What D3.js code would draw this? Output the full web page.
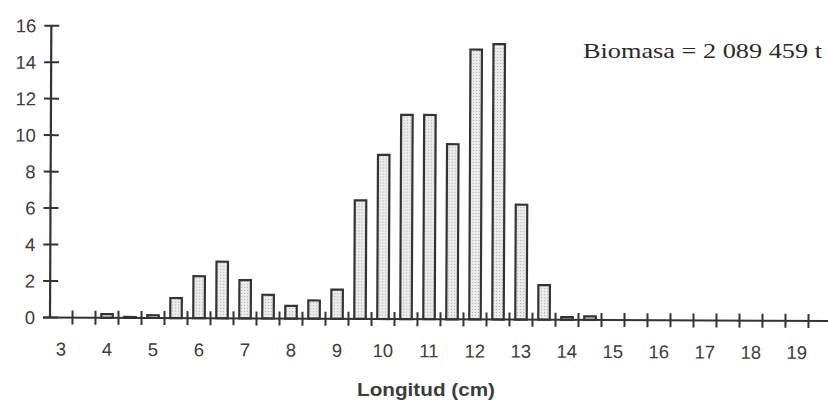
<!DOCTYPE html>
<html>
<head>
<meta charset="utf-8">
<script src="https://cdn.jsdelivr.net/npm/d3@7"></script>
<style>
  body { margin: 0; background: #fff; }
  svg { display: block; }
</style>
</head>
<body>
<svg id="chart" width="828" height="401"></svg>
<script>
// Length classes (cm), half-centimetre bins
const lengthClasses = ["3","3.5","4","4.5","5","5.5","6","6.5","7","7.5","8","8.5",
  "9","9.5","10","10.5","11","11.5","12","12.5","13","13.5","14","14.5",
  "15","15.5","16","16.5","17","17.5","18","18.5","19","19.5"];
// Share of biomass per length class (%)
const biomassPct = [0,0,0.2,0.05,0.15,1.1,2.3,3.1,2.1,1.3,0.7,1.0,
  1.6,6.5,9.0,11.2,11.2,9.6,14.8,15.1,6.3,1.9,0.15,0.2,
  0,0,0,0,0,0,0,0,0,0];
const xTickLabels = ["3","4","5","6","7","8","9","10","11","12","13","14","15","16","17","18","19"];
const yTickValues = [0,2,4,6,8,10,12,14,16];
const biomassNote = "Biomasa = 2 089 459 t";
const xTitle = "Longitud (cm)";

const svg = d3.select("#chart");
const ink = "#333";
const textInk = "#3c3c3c";

// stippled light fill for the bars
const defs = svg.append("defs");
const pat = defs.append("pattern")
  .attr("id", "stipple").attr("width", 3).attr("height", 3)
  .attr("patternUnits", "userSpaceOnUse");
pat.append("rect").attr("width", 3).attr("height", 3).attr("fill", "#ececec");
pat.append("rect").attr("x", 1).attr("y", 1).attr("width", 1).attr("height", 1).attr("fill", "#a8a8a8");

const x0 = 49.5, x1 = 831.5;
const x = d3.scaleBand().domain(lengthClasses).range([x0, x1])
  .paddingInner(0.5).paddingOuter(0.25);
const xEdge = d3.scaleLinear().domain([3, 20]).range([x0, x1]);
const y = d3.scaleLinear().domain([0, 16]).range([317.5, 25.7]);

const plot = svg.append("g").attr("transform", "rotate(0.26, 50, 317.5)");

// bars
plot.append("g").selectAll("rect")
  .data(lengthClasses.map((c, i) => ({ c, v: biomassPct[i] })).filter(d => d.v > 0))
  .join("rect")
  .attr("x", d => x(d.c))
  .attr("y", d => y(d.v))
  .attr("width", x.bandwidth())
  .attr("height", d => y(0) - y(d.v))
  .attr("fill", "url(#stipple)")
  .attr("stroke", ink)
  .attr("stroke-width", 2.2);

// x axis line and bin-edge ticks crossing it
plot.append("line")
  .attr("x1", 43).attr("x2", 830).attr("y1", y(0)).attr("y2", y(0))
  .attr("stroke", ink).attr("stroke-width", 2);
const edges = lengthClasses.slice(1).map(c => +c);
plot.append("g").selectAll("line").data(edges).join("line")
  .attr("x1", d => xEdge(d)).attr("x2", d => xEdge(d))
  .attr("y1", y(0) - 7).attr("y2", y(0) + 7)
  .attr("stroke", ink).attr("stroke-width", 2);

// x labels at the integer classes
plot.append("g").selectAll("text").data(xTickLabels).join("text")
  .attr("x", d => x(d) + x.bandwidth() / 2)
  .attr("y", y(0) + 38)
  .attr("text-anchor", "middle")
  .attr("font-family", "'Liberation Sans', Arial, sans-serif")
  .attr("font-size", 18.5)
  .attr("fill", textInk)
  .text(d => d);

// y axis
plot.append("line")
  .attr("x1", 50).attr("x2", 50).attr("y1", y(0)).attr("y2", y(16))
  .attr("stroke", ink).attr("stroke-width", 2.2);
plot.append("g").selectAll("line").data(yTickValues).join("line")
  .attr("x1", 43).attr("x2", 58)
  .attr("y1", d => y(d)).attr("y2", d => y(d))
  .attr("stroke", ink).attr("stroke-width", 2);
plot.append("g").selectAll("text").data(yTickValues).join("text")
  .attr("x", 35).attr("y", d => y(d)).attr("dy", "0.36em")
  .attr("text-anchor", "end")
  .attr("font-family", "'Liberation Sans', Arial, sans-serif")
  .attr("font-size", 18.5)
  .attr("fill", textInk)
  .text(d => d);

// axis title
svg.append("text")
  .attr("x", 357).attr("y", 396)
  .attr("font-family", "'Liberation Sans', Arial, sans-serif")
  .attr("font-weight", "bold")
  .attr("font-size", 17.5)
  .attr("textLength", 138)
  .attr("lengthAdjust", "spacingAndGlyphs")
  .attr("fill", textInk)
  .text(xTitle);

// biomass note
svg.append("text")
  .attr("x", 583).attr("y", 58.3)
  .attr("font-family", "'Liberation Serif', 'Times New Roman', serif")
  .attr("font-size", 21)
  .attr("textLength", 239)
  .attr("lengthAdjust", "spacingAndGlyphs")
  .attr("fill", "#2a2a2a")
  .text(biomassNote);
</script>
</body>
</html>
